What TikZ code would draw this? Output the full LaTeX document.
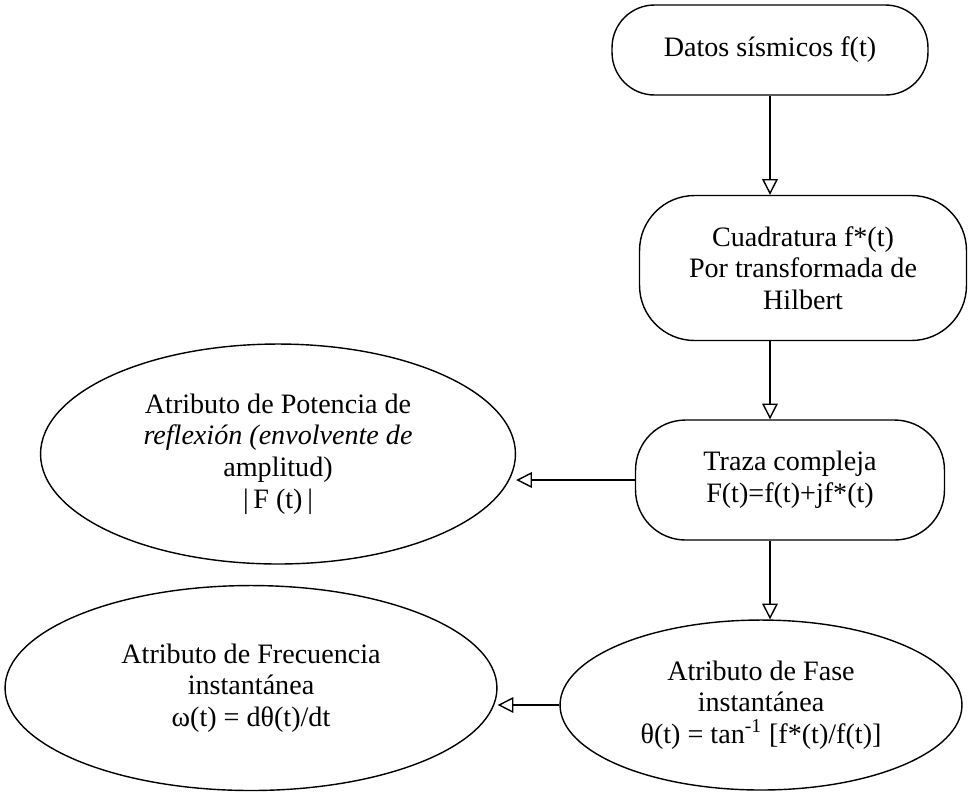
\documentclass[tikz,border=0pt]{standalone}
\usepackage{fontspec}
\setmainfont{Liberation Serif}
\usepackage{tikz}
\usetikzlibrary{arrows.meta}
\usetikzlibrary{shapes.geometric}

\begin{document}
\begin{tikzpicture}[x=0.02cm,y=-0.02cm,->,>={Triangle[open,length=9pt,width=9pt]},thick,
	box node/.style={rectangle,draw,align=center,font=\fontsize{16}{18}\selectfont},
	oval node/.style={ellipse,draw,inner sep=0pt,align=center,font=\fontsize{16}{18}\selectfont}]

	\useasboundingbox (0,0) rectangle (972,796);

	\node[box node,minimum width=6.32cm,minimum height=1.8cm,rounded corners=0.85cm] (1) at (770,50) {Datos sísmicos f(t)};
	\node[box node,minimum width=6.54cm,minimum height=2.9cm,rounded corners=1.1cm] (2) at (803,268) {Cuadratura f*(t)\\Por transformada de\\Hilbert};
	\node[box node,minimum width=6.18cm,minimum height=2.4cm,rounded corners=1cm] (3) at (790,480) {Traza compleja\\F(t)=f(t)+jf*(t)};
	\node[oval node,minimum width=9.5cm,minimum height=4.4cm] (4) at (278,454) {Atributo de Potencia de\\\textit{reflexión (envolvente de}\\amplitud)\\\textbar\,F (t)\,\textbar};
	\node[oval node,minimum width=8.04cm,minimum height=3.4cm] (5) at (761,705) {Atributo de Fase\\instantánea\\θ(t) = tan\textsuperscript{-1} [f*(t)/f(t)]};
	\node[oval node,minimum width=9.84cm,minimum height=4.1cm] (6) at (251,688) {Atributo de Frecuencia\\instantánea\\ω(t) = dθ(t)/dt};

	\path
		(1.south) edge (1.south |- 2.north)
		(1.south |- 2.south) edge (1.south |- 3.north)
		(3.west) edge (3.west -| 4.east)
		(1.south |- 3.south) edge (1.south |- 5.north)
		(5.west) edge (5.west -| 6.east);

\end{tikzpicture}
\end{document}
